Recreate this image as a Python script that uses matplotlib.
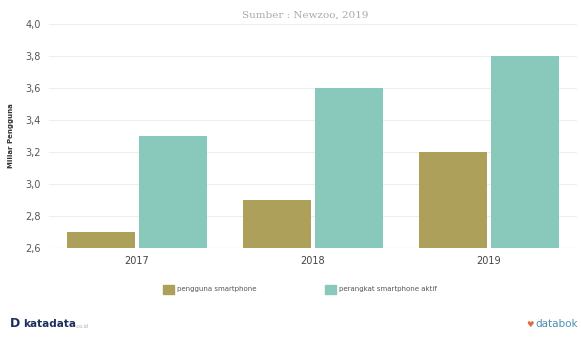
import matplotlib
matplotlib.use('Agg')
import matplotlib.pyplot as plt
import numpy as np
from matplotlib.patches import Patch

# data
tahun = ['2017', '2018', '2019']
pengguna = [2.7, 2.9, 3.2]
perangkat = [3.3, 3.6, 3.8]
yticks = [2.6, 2.8, 3.0, 3.2, 3.4, 3.6, 3.8, 4.0]

warna_olive = '#ada05b'
warna_teal = '#89c9bc'

fig = plt.figure(figsize=(5.81, 3.37), dpi=100)
ax = fig.add_axes([0.0843, 0.264, 0.9087, 0.665])

x = np.arange(len(tahun))
w = 0.39
ax.bar(x - w / 2 - 0.01, pengguna, width=w, color=warna_olive, zorder=3)
ax.bar(x + w / 2 + 0.01, perangkat, width=w, color=warna_teal, zorder=3)

ax.set_xlim(-0.5, 2.5)
ax.set_ylim(2.6, 4.0)
ax.set_yticks(yticks)
ax.set_yticklabels([f'{v:.1f}'.replace('.', ',') for v in yticks],
                   fontsize=7, color='#555555')
ax.set_xticks(x)
ax.set_xticklabels(tahun, fontsize=7, color='#444444')
ax.tick_params(axis='both', length=0, pad=6)
ax.grid(axis='y', color='#eeeeee', linewidth=0.8, zorder=0)
for s in ax.spines.values():
    s.set_visible(False)
ax.axhline(2.6, color='#dddddd', linewidth=0.8, zorder=2)

ax.set_ylabel('Miliar Pengguna', fontsize=5, fontweight='bold', color='#333333', labelpad=8)

fig.text(0.525, 0.955, 'Sumber : Newzoo, 2019', family='DejaVu Serif',
         fontsize=7.5, color='#aaaaaa', ha='center', va='center')

handles = [Patch(color=warna_olive, label='pengguna smartphone'),
           Patch(color=warna_teal, label='perangkat smartphone aktif')]
fig.legend(handles=handles, loc='center', bbox_to_anchor=(0.516, 0.142), ncol=2,
           frameon=False, fontsize=5, handlelength=1.6, handleheight=1.6,
           columnspacing=9.8, handletextpad=0.4, labelcolor='#555555')

fig.text(0.017, 0.02, 'D', fontsize=9, fontweight='bold', color='#1d2f5c', va='bottom')
fig.text(0.04, 0.025, 'katadata', fontsize=7.5, fontweight='bold', color='#1d2f5c', va='bottom')
fig.text(0.13, 0.025, '.co.id', fontsize=3.5, color='#aaaaaa', va='bottom')
fig.text(0.995, 0.025, 'databok', fontsize=7.5, color='#4a8fb0', va='bottom', ha='right')
fig.text(0.918, 0.025, '\u2665', fontsize=6, color='#e06a3a', va='bottom', ha='right')

fig.savefig('out.png', dpi=100)
